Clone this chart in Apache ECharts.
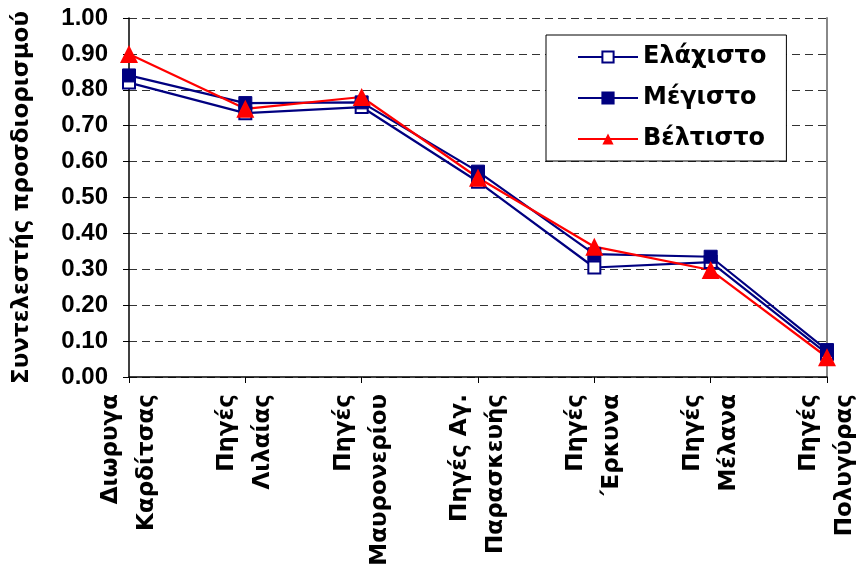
<!DOCTYPE html>
<html>
<head>
<meta charset="utf-8">
<script src="https://cdn.jsdelivr.net/npm/echarts@6/dist/echarts.min.js"></script>
<style>
  html, body { margin: 0; padding: 0; background: #fff; }
  #chart { width: 863px; height: 578px; }
</style>
</head>
<body>
<div id="chart"></div>
<script>
// Sampling sites along the x axis
const categories = [
  'Διωρυγα\nΚαρδίτσας',
  'Πηγές\nΛιλαίας',
  'Πηγές\nΜαυρονερίου',
  'Πηγές Αγ.\nΠαρασκευής',
  'Πηγές\n΄Ερκυνα',
  'Πηγές\nΜέλανα',
  'Πηγές\nΠολυγύρας'
];

// Coefficient of determination per site
const minValues  = [0.82, 0.735, 0.752, 0.544, 0.305, 0.320, 0.065];
const maxValues  = [0.84, 0.763, 0.765, 0.572, 0.342, 0.335, 0.075];
const bestValues = [0.90, 0.747, 0.780, 0.555, 0.363, 0.298, 0.055];

const yTicks = { min: 0, max: 1, interval: 0.1 };

const NUM_FONT = 'Liberation Sans';   // tick numbers
const TEXT_FONT = 'DejaVu Sans';      // Greek labels
const NAVY = '#000080';
const RED = '#FF0000';

const chart = echarts.init(document.getElementById('chart'));

chart.setOption({
  animation: false,
  textStyle: { fontFamily: TEXT_FONT },
  grid: { left: 129, right: 32, top: 18, bottom: 201, containLabel: false },
  legend: {
    orient: 'vertical',
    left: 546,
    top: 35,
    padding: [10, 20, 10, 31],
    itemGap: 17,
    itemWidth: 60,
    itemHeight: 14,
    backgroundColor: '#fff',
    borderColor: '#000',
    borderWidth: 1,
    textStyle: { fontFamily: TEXT_FONT, fontWeight: 'bold', fontSize: 24, color: '#000' },
    data: ['Ελάχιστο', 'Μέγιστο', 'Βέλτιστο']
  },
  xAxis: {
    type: 'category',
    data: categories,
    boundaryGap: false,
    axisLine: { lineStyle: { color: '#000', width: 1.5 } },
    axisTick: { show: true, alignWithLabel: true, length: 6, lineStyle: { color: '#000' } },
    axisLabel: {
      rotate: 90,
      interval: 0,
      margin: 17,
      fontFamily: TEXT_FONT,
      fontWeight: 'bold',
      fontSize: 23,
      lineHeight: 36,
      color: '#000'
    }
  },
  yAxis: [{
    type: 'value',
    min: yTicks.min,
    max: yTicks.max,
    interval: yTicks.interval,
    name: 'Συντελεστής προσδιορισμού',
    nameLocation: 'middle',
    nameGap: 95,
    nameRotate: 90,
    nameTextStyle: { fontFamily: TEXT_FONT, fontWeight: 'bold', fontSize: 23, color: '#000' },
    axisLine: { show: true, lineStyle: { color: '#000', width: 1.5 } },
    axisTick: { show: true, length: 6, lineStyle: { color: '#000' } },
    axisLabel: {
      margin: 21,
      formatter: v => v.toFixed(2),
      fontFamily: NUM_FONT,
      fontWeight: 'bold',
      fontSize: 24,
      color: '#000'
    },
    splitLine: {
      show: true,
      lineStyle: { color: '#333', type: [8, 5], width: 1 }
    }
  }, {
    type: 'value',
    position: 'right',
    min: yTicks.min,
    max: yTicks.max,
    axisLine: { show: true, lineStyle: { color: '#888', width: 2 } },
    axisTick: { show: false },
    axisLabel: { show: false },
    splitLine: { show: false }
  }],
  series: [
    {
      name: 'Ελάχιστο',
      type: 'line',
      data: minValues,
      symbol: 'rect',
      symbolSize: 12,
      lineStyle: { color: NAVY, width: 2.2 },
      itemStyle: { color: '#fff', borderColor: NAVY, borderWidth: 2 }
    },
    {
      name: 'Μέγιστο',
      type: 'line',
      data: maxValues,
      symbol: 'rect',
      symbolSize: 13,
      lineStyle: { color: NAVY, width: 2.2 },
      itemStyle: { color: NAVY, borderColor: NAVY, borderWidth: 1 }
    },
    {
      name: 'Βέλτιστο',
      type: 'line',
      data: bestValues,
      symbol: 'triangle',
      symbolSize: 18,
      lineStyle: { color: RED, width: 2.2 },
      itemStyle: { color: RED }
    }
  ]
});
</script>
</body>
</html>
